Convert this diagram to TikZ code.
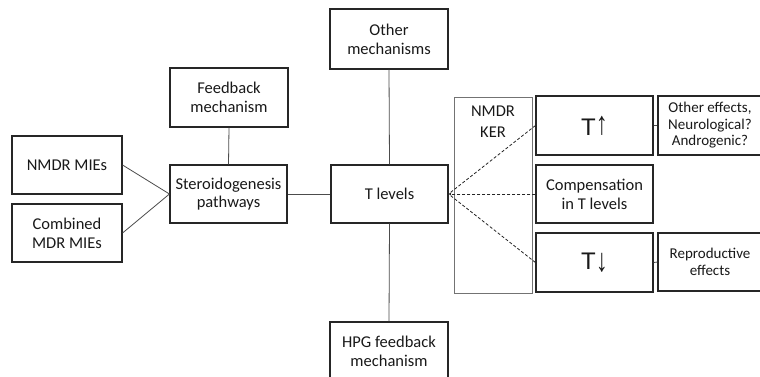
\documentclass[tikz,border=0pt]{standalone}
\usepackage{fontspec}
\setmainfont{Carlito}
\newfontfamily\arialf{Liberation Sans}
\usetikzlibrary{arrows.meta}
\begin{document}
\begin{tikzpicture}[x=1pt,y=-1pt,
  box/.style={draw=black!85,line width=1.1pt,align=center,text=black!90,
    inner sep=0pt,font=\fontsize{16.5}{18.7}\selectfont},
  smallbox/.style={box,font=\fontsize{15}{16.5}\selectfont},
  bigbox/.style={box,font=\arialf\fontsize{24}{28}\selectfont},
  link/.style={draw=black!70,line width=0.8pt},
  dlink/.style={draw=black!85,line width=0.8pt,dash pattern=on 3pt off 2pt}]
\clip (0,0) rectangle (760,376);
\fill[white] (0,0) rectangle (760,376);
% left
\node[box,minimum width=110pt,minimum height=58pt] (nmdr) at (67,165) {NMDR MIEs};
\node[box,minimum width=110pt,minimum height=58pt] (comb) at (67,233) {Combined\\MDR MIEs};
\node[box,minimum width=117pt,minimum height=58pt] (ster) at (228.5,194) {Steroidogenesis\\pathways};
\node[box,minimum width=118pt,minimum height=59pt] (feed) at (229,97.5) {Feedback\\mechanism};
% centre
\node[box,minimum width=117pt,minimum height=58pt] (tlev) at (389.5,194) {T levels};
\node[box,minimum width=118pt,minimum height=60pt] (other) at (389,39) {Other\\mechanisms};
\node[box,minimum width=118pt,minimum height=58pt] (hpg) at (389,351) {HPG feedback\\mechanism};
% KER
\node[draw=black!55,line width=0.6pt,minimum width=78pt,minimum height=196pt,inner sep=0pt] (ker) at (493,195) {};
\node[align=center,text=black!90,font=\fontsize{16.5}{21}\selectfont,anchor=north,inner sep=0pt] (kert) at (493,106) {NMDR\\KER};
% right
\node[bigbox,minimum width=117pt,minimum height=59pt] (tup) at (594.5,125.5) {T\raisebox{1pt}{\scalebox{1}[1.35]{↑}}};
\node[box,minimum width=117pt,minimum height=58pt] (comp) at (594.5,194) {Compensation\\in T levels};
\node[bigbox,minimum width=117pt,minimum height=59pt] (tdown) at (594.5,262.5) {T\raisebox{-2pt}{\scalebox{1}[1.35]{↓}}};
\node[smallbox,minimum width=104pt,minimum height=59pt] (oeff) at (710,125.5) {Other effects,\\Neurological?\\Androgenic?};
\node[smallbox,minimum width=104pt,minimum height=58pt] (repr) at (710,262) {Reproductive\\effects};
% connectors
\draw[link] (nmdr.east) -- (ster.west);
\draw[link] (comb.east) -- (ster.west);
\draw[link] (feed.south) -- (ster.north);
\draw[link] (ster.east) -- (tlev.west);
\draw[link] (other.south) -- (tlev.north);
\draw[link] (tlev.south) -- (hpg.north);
\draw[dlink] (tup.west) -- (tlev.east);
\draw[dlink,-{Stealth[length=3pt,width=3pt]}] (comp.west) -- (tlev.east);
\draw[dlink] (tdown.west) -- (tlev.east);
\draw[link] (tup.east) -- (oeff.west);
\draw[link] (tdown.east) -- (repr.west);
\end{tikzpicture}
\end{document}
